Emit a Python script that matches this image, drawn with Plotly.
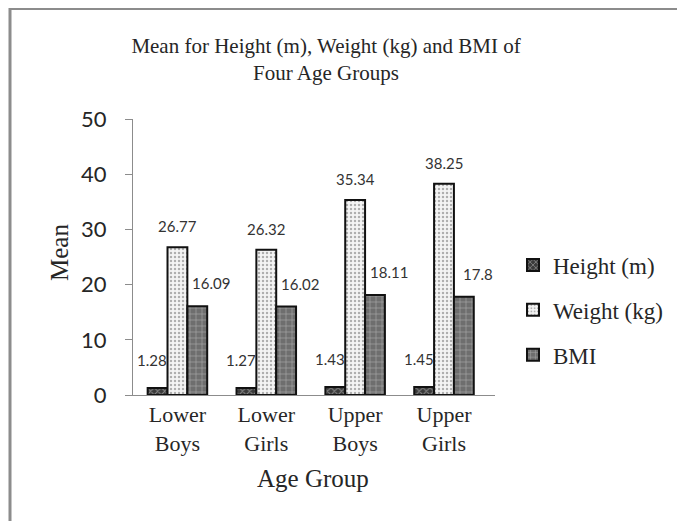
import plotly.graph_objects as go

categories = ["Lower<br>Boys", "Lower<br>Girls", "Upper<br>Boys", "Upper<br>Girls"]
height_m = [1.28, 1.27, 1.43, 1.45]
weight_kg = [26.77, 26.32, 35.34, 38.25]
bmi = [16.09, 16.02, 18.11, 17.8]
series_names = ["Height (m)", "Weight (kg)", "BMI"]

SERIF = "Liberation Serif"
SANS = "Lato"
TXT = "#262626"
AX = "#8c8c8c"

# page offset (browser body margin) compensation: screen px -> figure px
OFF = 8
W, H = 685, 521
PL, PR, PT, PB = 133, 495, 119, 395  # plot area in screen px


def px(sx):
    return (sx - PL) / (PR - PL)


def py(sy):
    return (PB - sy) / (PB - PT)


styles = [
    dict(shape="x", bgcolor="#3a3a3a", fgcolor="#d8d8d8", size=5, solidity=0.35),
    dict(shape=".", bgcolor="#f4f4f4", fgcolor="#6a6a6a", size=4, solidity=0.3),
    dict(shape="+", bgcolor="#6e6e6e", fgcolor="#e0e0e0", size=6, solidity=0.2),
]

fig = go.Figure()
for i, (name, vals) in enumerate(zip(series_names, [height_m, weight_kg, bmi])):
    fig.add_trace(go.Bar(
        x=categories, y=vals, name=name, legendgroup=name,
        marker=dict(color=styles[i]["bgcolor"], pattern=styles[i],
                    line=dict(color="#111111", width=2)),
    ))

# data labels
label_shift = [(-25, 28), (0, 21), (34, 23)]
for (dx, dy), vals in zip(label_shift, [height_m, weight_kg, bmi]):
    for c, v in zip(categories, vals):
        fig.add_annotation(x=c, y=v, text=str(v), showarrow=False,
                           xshift=dx, yshift=dy,
                           font=dict(family=SANS, size=15, color="#333333"))

# axis titles
fig.add_annotation(xref="paper", yref="paper", x=px(59), y=py(253),
                   xanchor="center", yanchor="middle",
                   text="Mean", textangle=-90, showarrow=False,
                   font=dict(family=SERIF, size=25, color=TXT))
fig.add_annotation(xref="paper", yref="paper", x=px(313), y=py(478),
                   xanchor="center", yanchor="middle",
                   text="Age Group", showarrow=False,
                   font=dict(family=SERIF, size=25, color=TXT))

# frame lines (left and top)
fig.add_shape(type="line", xref="paper", yref="paper",
              x0=px(10), x1=px(10), y0=py(0), y1=py(540),
              line=dict(color=AX, width=3))
fig.add_shape(type="line", xref="paper", yref="paper",
              x0=px(9), x1=px(700), y0=py(OFF + 1), y1=py(OFF + 1),
              line=dict(color=AX, width=2))

fig.update_layout(
    width=W, height=H,
    margin=dict(l=PL - OFF, r=W - (PR - OFF), t=PT - OFF, b=H - (PB - OFF),
                autoexpand=False),
    paper_bgcolor="white", plot_bgcolor="white",
    barmode="group", bargap=0.33, bargroupgap=0,
    title=dict(text="Mean for Height (m), Weight (kg) and BMI of<br>Four Age Groups",
               x=(326 - OFF) / W, xanchor="center", xref="container",
               y=1 - (53 - OFF) / H, yanchor="middle", yref="container",
               font=dict(family=SERIF, size=21, color=TXT)),
    legend=dict(x=(513 - OFF) / W, xref="container", xanchor="left",
                y=1 - (310 - OFF) / H, yref="container", yanchor="middle",
                font=dict(family=SERIF, size=23, color=TXT),
                tracegroupgap=12, itemwidth=30, traceorder="grouped"),
    showlegend=True,
)
fig.update_xaxes(showline=True, linecolor=AX, linewidth=1, automargin=False,
                 ticks="", tickfont=dict(family=SERIF, size=22, color=TXT))
fig.update_yaxes(range=[0, 50], dtick=10, showgrid=False, zeroline=False,
                 automargin=False,
                 showline=True, linecolor=AX, linewidth=1,
                 ticks="outside", ticklen=7, tickcolor=AX,
                 ticklabelstandoff=14,
                 tickfont=dict(family=SANS, size=22, color=TXT))

fig.write_html("out.html")
